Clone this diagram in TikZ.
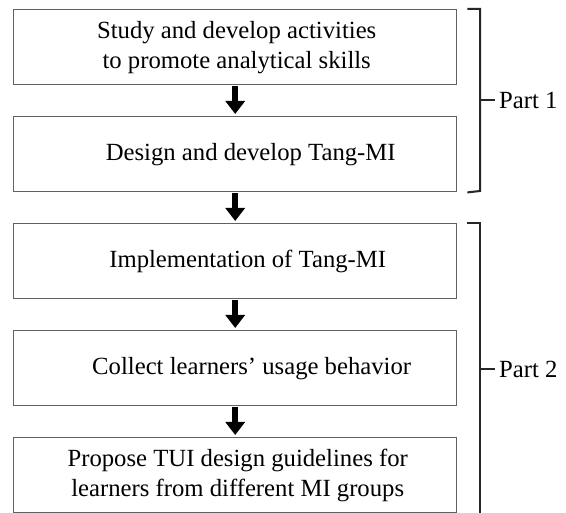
\documentclass[tikz,border=0pt]{standalone}
\usepackage{fontspec}
\setmainfont{Liberation Serif}
\usetikzlibrary{arrows.meta}
\begin{document}
\begin{tikzpicture}[x=1pt,y=-1pt,
  stepbox/.style={draw=black!62, line width=1.4pt, minimum width=443pt, minimum height=75pt,
    inner sep=0pt, font=\fontsize{24.7}{30}\selectfont, align=center, anchor=north west},
  flow/.style={line width=6pt, -{Triangle[length=13pt,width=19pt]}},
  bracketline/.style={line width=2pt, black!85},
  partlabel/.style={anchor=west, inner sep=0pt, font=\fontsize{24.7}{30}\selectfont}]
\clip (0,0) rectangle (566,513);
\fill[white] (0,0) rectangle (566,513);
\node[stepbox] (b1) at (13,9) {\hspace*{3pt}Study and develop activities\\\hspace*{3pt}to promote analytical skills};
\node[stepbox] (b2) at (13,116) {\hspace*{31pt}Design and develop Tang-MI};
\node[stepbox] (b3) at (13,223) {\hspace*{25pt}Implementation of Tang-MI};
\node[stepbox] (b4) at (13,330) {\hspace*{33pt}Collect learners' usage behavior};
\node[stepbox] (b5) at (13,437) {\hspace*{5pt}Propose TUI design guidelines for\\\hspace*{5pt}learners from different MI groups};
\draw[flow] ([yshift=-1pt]b1.south) -- ([yshift=2pt]b2.north);
\draw[flow] ([yshift=-1pt]b2.south) -- ([yshift=2pt]b3.north);
\draw[flow] ([yshift=-1pt]b3.south) -- ([yshift=2pt]b4.north);
\draw[flow] ([yshift=-1pt]b4.south) -- ([yshift=2pt]b5.north);
% Part 1 bracket
\coordinate (k1t) at (480,9);
\coordinate (k1b) at (480,191);
\coordinate (k1m) at (480,100);
\draw[bracketline] ([xshift=10pt]b1.north east) -- (k1t) -- (k1b) -- ([xshift=10pt]b2.south east);
\node[partlabel] (p1) at (499,100) {Part 1};
\draw[bracketline] (k1m) -- ([xshift=-4pt]p1.west);
% Part 2 bracket
\coordinate (k2t) at (480,223);
\coordinate (k2b) at (480,520);
\coordinate (k2m) at (480,369);
\draw[bracketline] ([xshift=10pt]b3.north east) -- (k2t) -- (k2b);
\node[partlabel] (p2) at (499,369) {Part 2};
\draw[bracketline] (k2m) -- ([xshift=-4pt]p2.west);
\end{tikzpicture}
\end{document}
